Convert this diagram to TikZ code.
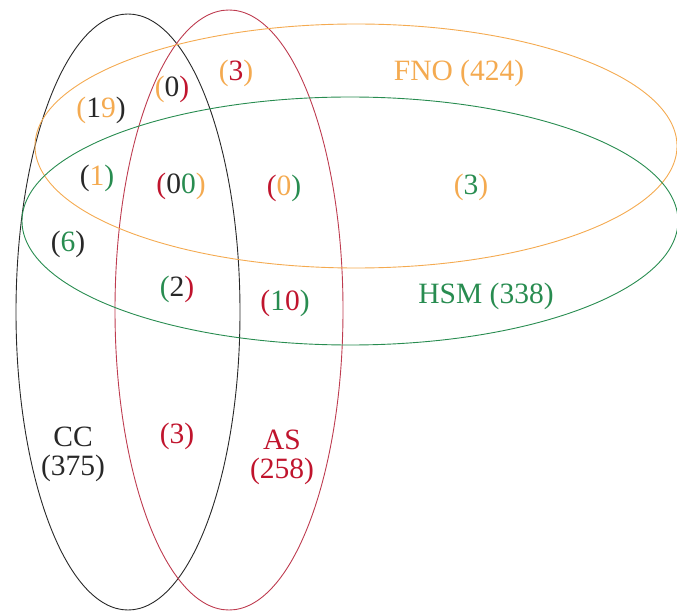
\documentclass[tikz,border=0pt]{standalone}
\usepackage{fontspec}
\setmainfont{Liberation Serif}
\definecolor{vor}{RGB}{244,170,80}
\definecolor{vgr}{RGB}{40,140,80}
\definecolor{vrd}{RGB}{192,20,45}
\definecolor{vrl}{RGB}{190,60,80}
\definecolor{vbk}{RGB}{40,40,40}
\newcommand{\xo}[1]{\textcolor{vor}{#1}}
\newcommand{\xg}[1]{\textcolor{vgr}{#1}}
\newcommand{\xr}[1]{\textcolor{vrd}{#1}}
\newcommand{\xk}[1]{\textcolor{vbk}{#1}}
\tikzset{
  setline/.style={line width=0.9pt},
  lbl/.style={inner sep=0pt, font=\fontsize{29.5}{29}\selectfont, align=center}
}
\begin{document}
\begin{tikzpicture}[x=1pt,y=-1pt]
\useasboundingbox (0,0) rectangle (677,612);
% ellipses
\draw[setline, vbk] (128,312) ellipse [x radius=112, y radius=298];
\draw[setline, vrl] (229,310) ellipse [x radius=114, y radius=300];
\draw[setline, vor] (356,146) ellipse [x radius=321, y radius=122];
\draw[setline, vgr] (350,221) ellipse [x radius=328, y radius=124];
% labels
\node[lbl] (n19) at (101,110) {\xo{(}\xk{1}\xo{9}\xk{)}};
\node[lbl] (n0a) at (172,89) {\xo{(}\xk{0}\xr{)}};
\node[lbl] (n3a) at (236,73) {\xo{(}\xr{3}\xo{)}};
\node[lbl] (fno) at (459,73) {\xo{FNO (424)}};
\node[lbl] (n1) at (97,178) {\xk{(}\xo{1}\xg{)}};
\node[lbl] (n00) at (181,186) {\xr{(}\xk{0}\xg{0}\xo{)}};
\node[lbl] (n0b) at (284,188) {\xr{(}\xo{0}\xg{)}};
\node[lbl] (n3b) at (471,187) {\xo{(}\xg{3}\xo{)}};
\node[lbl] (n6) at (68,244) {\xk{(}\xg{6}\xk{)}};
\node[lbl] (n2) at (177,289) {\xg{(}\xk{2}\xr{)}};
\node[lbl] (n10) at (285,303) {\xr{(}\xg{1}\xr{0}\xg{)}};
\node[lbl] (hsm) at (486,296) {\xg{HSM (338)}};
\node[lbl] (cc) at (73,454) {\xk{CC}\\\xk{(375)}};
\node[lbl] (n3c) at (177,436) {\xr{(3)}};
\node[lbl] (as) at (282,457) {\xr{AS}\\\xr{(258)}};
\end{tikzpicture}
\end{document}
